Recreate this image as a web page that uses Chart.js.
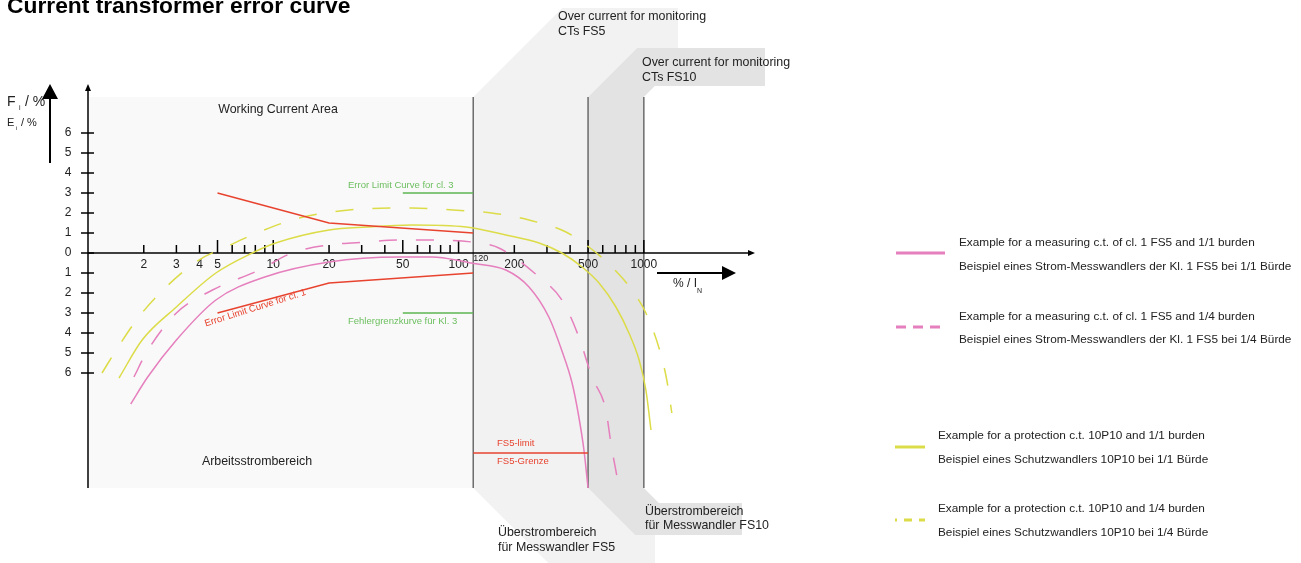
<!DOCTYPE html>
<html>
<head>
<meta charset="utf-8">
<script src="https://cdn.jsdelivr.net/npm/chart.js@4/dist/chart.umd.min.js"></script>
<style>
  html, body { margin: 0; padding: 0; background: #fff; }
  #wrap { position: relative; width: 1301px; height: 563px; overflow: hidden; }
  #chart { position: absolute; left: 0; top: 0; }
  h1 { position: absolute; left: 7px; top: -6px; margin: 0; font: bold 22.8px Arial, "Liberation Sans", sans-serif; line-height: 23px; color: #000; white-space: nowrap; }
</style>
</head>
<body>
<div id="wrap">
  <canvas id="chart" width="1301" height="563"></canvas>
  <h1>Current transformer error curve</h1>
</div>
<script>
// data (x = % of I_N, y = error in %)
const meas11X = [1.7, 2.1, 3, 4.9, 9, 20, 48, 72, 110, 117, 180, 240, 307, 360, 410, 446, 475, 500];
const meas11Y = [-7.55, -6.2, -4.35, -2.35, -1.2, -0.45, -0.2, -0.2, -0.45, -0.5, -0.85, -1.7, -3.2, -4.85, -6.5, -8.2, -9.85, -11.75];

const meas14X = [1.77, 2.06, 3, 4.7, 8.4, 12.6, 20, 32, 48, 72, 129, 165, 272, 361, 446, 525, 624, 664, 734];
const meas14Y = [-6.2, -5.0, -3.0, -1.85, -0.85, 0, 0.4, 0.55, 0.65, 0.65, 0.5, 0.25, -1.2, -2.35, -4.2, -6.2, -7.85, -9.5, -11.7];

const prot11X = [1.47, 1.96, 3, 4.9, 7.7, 10.3, 20, 32, 56, 110, 180, 272, 361, 464, 573, 707, 831, 943, 1026, 1093];
const prot11Y = [-6.25, -4.35, -2.7, -1.0, 0, 0.5, 1.15, 1.3, 1.4, 1.3, 0.9, 0.5, 0, -0.7, -1.5, -2.7, -4.0, -5.35, -6.85, -8.85];

const prot14X = [1.19, 1.42, 1.88, 2.64, 3.97, 5.55, 8.4, 13.8, 25.6, 56, 110, 151, 240, 380, 505, 673, 862, 1026, 1203, 1330, 1416];
const prot14Y = [-6.0, -4.85, -3.2, -1.7, -0.35, 0.3, 1.05, 1.75, 2.15, 2.25, 2.1, 2.0, 1.65, 1.05, 0.3, -0.7, -1.85, -3.0, -4.7, -6.35, -8.0];

const limit1X = [5, 20, 120];
const limit1Upper = [3, 1.5, 1];
const limit1Lower = [-3, -1.5, -1];

const limit3X = [50, 120];
const limit3Upper = [3, 3];
const limit3Lower = [-3, -3];

const fs5LimitX = [120, 500];
const fs5LimitY = [-10, -10];

// axis ticks
const yTicks = [6, 5, 4, 3, 2, 1, 0, -1, -2, -3, -4, -5, -6];
const xTickLabels = [2, 3, 4, 5, 10, 20, 50, 100, 200, 500, 1000];
const xMajorTicks = [5, 10, 50, 100, 500, 1000];
const xMinorTicks = [2, 3, 4, 6, 7, 8, 9, 20, 30, 40, 60, 70, 80, 90, 200, 300, 400, 600, 700, 800, 900];

// area boundaries
const areaTop = 7.8;
const areaBottom = -11.75;
const workEnd = 120;
const fs5End = 500;
const fs10End = 1000;

const PINK = '#e67fbd';
const YELLOW = '#dcdc48';
const RED = '#e8432f';
const GREEN = '#5db552';
const TEXT = '#222';
const FONT = 'Arial, "Liberation Sans", sans-serif';

function series(xs, ys) {
  return xs.map((v, i) => ({ x: v, y: ys[i] }));
}

function label(ctx, str, px, py, size, color, align) {
  ctx.font = size + 'px ' + FONT;
  ctx.fillStyle = color || TEXT;
  ctx.textAlign = align || 'left';
  ctx.textBaseline = 'middle';
  ctx.fillText(str, px, py);
}

function poly(ctx, pts, color) {
  ctx.beginPath();
  pts.forEach(([px, py], i) => i ? ctx.lineTo(px, py) : ctx.moveTo(px, py));
  ctx.closePath();
  ctx.fillStyle = color;
  ctx.fill();
}

function line(ctx, x1, y1, x2, y2, color, width, dash) {
  ctx.beginPath();
  ctx.setLineDash(dash || []);
  ctx.moveTo(x1, y1);
  ctx.lineTo(x2, y2);
  ctx.strokeStyle = color;
  ctx.lineWidth = width;
  ctx.stroke();
  ctx.setLineDash([]);
}

const diagram = {
  id: 'diagram',
  beforeDatasetsDraw(chart) {
    const { ctx, scales: { x, y } } = chart;
    const x0 = x.getPixelForValue(1);
    const x120 = x.getPixelForValue(workEnd);
    const x500 = x.getPixelForValue(fs5End);
    const x1000 = x.getPixelForValue(fs10End);
    const top = y.getPixelForValue(areaTop);
    const bot = y.getPixelForValue(areaBottom);
    const y0 = y.getPixelForValue(0);
    ctx.save();

    // areas
    ctx.fillStyle = '#f9f9f9';
    ctx.fillRect(x0 + 1, top, x120 - x0 - 1, bot - top);
    ctx.fillStyle = '#f2f2f2';
    ctx.fillRect(x120, top, x500 - x120, bot - top);
    ctx.fillStyle = '#e3e3e3';
    ctx.fillRect(x500, top, x1000 - x500, bot - top);

    // callout bands above
    poly(ctx, [[x120, top], [x120 + 89, 8], [678, 8], [678, 48], [x500 + 49, 48], [x500, top]], '#f2f2f2');
    poly(ctx, [[x500, top], [x500 + 49, 48], [765, 48], [765, 86], [x1000 + 11, 86], [x1000, top]], '#e3e3e3');
    // callout bands below
    poly(ctx, [[x120, bot], [x500, bot], [x500 + 47, 535], [655, 535], [655, 563], [x120 + 75, 563]], '#f2f2f2');
    poly(ctx, [[x500, bot], [x1000, bot], [x1000 + 15, 503], [742, 503], [742, 535], [x500 + 47, 535]], '#e3e3e3');

    // area borders
    [x120, x500, x1000].forEach(px => line(ctx, px, top, px, bot, '#6b6b6b', 1.5));

    // y axis
    line(ctx, x0, 89, x0, bot, '#000', 1.5);
    poly(ctx, [[x0, 84], [x0 - 3, 91], [x0 + 3, 91]], '#000');
    yTicks.forEach(v => {
      const py = y.getPixelForValue(v);
      line(ctx, x0 - 7, py, x0 + 6, py, '#000', 1.5);
      label(ctx, String(Math.abs(v)), 68, py, 12, TEXT, 'center');
    });

    // x axis
    line(ctx, x0, y0, 750, y0, '#000', 1.5);
    poly(ctx, [[755, y0], [748, y0 - 3], [748, y0 + 3]], '#000');
    xMajorTicks.forEach(v => {
      const px = x.getPixelForValue(v);
      line(ctx, px, y0 - 13, px, y0, '#000', 1.5);
    });
    xMinorTicks.forEach(v => {
      const px = x.getPixelForValue(v);
      line(ctx, px, y0 - 8, px, y0, '#000', 1.5);
    });
    xTickLabels.forEach(v => {
      label(ctx, String(v), x.getPixelForValue(v), y0 + 12, 12, TEXT, 'center');
    });
    label(ctx, '120', x120, y0 + 6, 9, TEXT, 'left');

    // big axis arrows
    line(ctx, 50, 163, 50, 96, '#000', 2);
    poly(ctx, [[50, 84], [42, 99], [58, 99]], '#000');
    line(ctx, 657, 273, 724, 273, '#000', 2);
    poly(ctx, [[736, 273], [722, 266], [722, 280]], '#000');

    ctx.restore();
  },
  afterDatasetsDraw(chart) {
    const { ctx } = chart;
    ctx.save();

    // axis titles
    label(ctx, 'F', 7, 102, 14);
    label(ctx, 'i', 19, 108, 7);
    label(ctx, '/ %', 25, 102, 14);
    label(ctx, 'E', 7, 123, 11);
    label(ctx, 'i', 16, 128, 6);
    label(ctx, '/ %', 21, 123, 11);
    label(ctx, '% / I', 673, 284, 12);
    label(ctx, 'N', 697, 291, 7);

    // area labels
    label(ctx, 'Working Current Area', 278, 110, 12.4, TEXT, 'center');
    label(ctx, 'Arbeitsstrombereich', 257, 462, 12.4, TEXT, 'center');
    label(ctx, 'Over current for monitoring', 558, 17, 12.4);
    label(ctx, 'CTs FS5', 558, 32, 12.4);
    label(ctx, 'Over current for monitoring', 642, 63, 12.4);
    label(ctx, 'CTs FS10', 642, 78, 12.4);
    label(ctx, 'Überstrombereich', 498, 533, 12.4);
    label(ctx, 'für Messwandler FS5', 498, 548, 12.4);
    label(ctx, 'Überstrombereich', 645, 512, 12.4);
    label(ctx, 'für Messwandler FS10', 645, 526, 12.4);

    // curve labels
    label(ctx, 'Error Limit Curve for cl. 3', 348, 185, 9.5, '#6cbf5f');
    label(ctx, 'Fehlergrenzkurve für Kl. 3', 348, 321, 9.5, '#6cbf5f');
    label(ctx, 'FS5-limit', 497, 443, 9.5, RED);
    label(ctx, 'FS5-Grenze', 497, 461, 9.5, RED);
    ctx.save();
    ctx.translate(205, 324);
    ctx.rotate(-17.5 * Math.PI / 180);
    label(ctx, 'Error Limit Curve for cl. 1', 0, 0, 9.5, RED);
    ctx.restore();

    // legend
    const lf = 11.8;
    line(ctx, 896, 253, 945, 253, PINK, 3);
    label(ctx, 'Example for a measuring c.t. of cl. 1 FS5 and 1/1 burden', 959, 243, lf);
    label(ctx, 'Beispiel eines Strom-Messwandlers der Kl. 1 FS5 bei 1/1 Bürde', 959, 267, lf);
    line(ctx, 896, 327, 946, 327, PINK, 3, [10, 7]);
    label(ctx, 'Example for a measuring c.t. of cl. 1 FS5 and 1/4 burden', 959, 317, lf);
    label(ctx, 'Beispiel eines Strom-Messwandlers der Kl. 1 FS5 bei 1/4 Bürde', 959, 340, lf);
    line(ctx, 895, 447, 925, 447, YELLOW, 3);
    label(ctx, 'Example for a protection c.t. 10P10 and 1/1 burden', 938, 436, lf);
    label(ctx, 'Beispiel eines Schutzwandlers 10P10 bei 1/1 Bürde', 938, 460, lf);
    ctx.lineDashOffset = 6;
    line(ctx, 895, 520, 925, 520, YELLOW, 3, [8, 7]);
    ctx.lineDashOffset = 0;
    label(ctx, 'Example for a protection c.t. 10P10 and 1/4 burden', 938, 509, lf);
    label(ctx, 'Beispiel eines Schutzwandlers 10P10 bei 1/4 Bürde', 938, 533, lf);

    ctx.restore();
  }
};

const curve = { borderWidth: 1.5, pointRadius: 0, fill: false, cubicInterpolationMode: 'monotone' };
const straight = { borderWidth: 1.5, pointRadius: 0, fill: false, tension: 0 };

new Chart(document.getElementById('chart'), {
  type: 'line',
  data: {
    datasets: [
      { ...straight, label: 'Error limit cl. 1 (+)', data: series(limit1X, limit1Upper), borderColor: RED },
      { ...straight, label: 'Error limit cl. 1 (-)', data: series(limit1X, limit1Lower), borderColor: RED },
      { ...straight, label: 'Error limit cl. 3 (+)', data: series(limit3X, limit3Upper), borderColor: GREEN },
      { ...straight, label: 'Error limit cl. 3 (-)', data: series(limit3X, limit3Lower), borderColor: GREEN },
      { ...straight, label: 'FS5 limit', data: series(fs5LimitX, fs5LimitY), borderColor: RED },
      { ...curve, label: 'Measuring c.t. cl. 1 FS5, 1/1 burden', data: series(meas11X, meas11Y), borderColor: PINK },
      { ...curve, label: 'Measuring c.t. cl. 1 FS5, 1/4 burden', data: series(meas14X, meas14Y), borderColor: PINK, borderDash: [18, 19] },
      { ...curve, label: 'Protection c.t. 10P10, 1/1 burden', data: series(prot11X, prot11Y), borderColor: YELLOW },
      { ...curve, label: 'Protection c.t. 10P10, 1/4 burden', data: series(prot14X, prot14Y), borderColor: YELLOW, borderDash: [18, 19] }
    ]
  },
  options: {
    responsive: false,
    animation: false,
    devicePixelRatio: 1,
    layout: { padding: { left: 88, right: 546, top: 83, bottom: 70 } },
    plugins: { legend: { display: false }, tooltip: { enabled: false }, title: { display: false } },
    scales: {
      x: { type: 'logarithmic', min: 1, max: 3981, display: false },
      y: { type: 'linear', min: -12, max: 8.5, display: false }
    }
  },
  plugins: [diagram]
});
</script>
</body>
</html>
